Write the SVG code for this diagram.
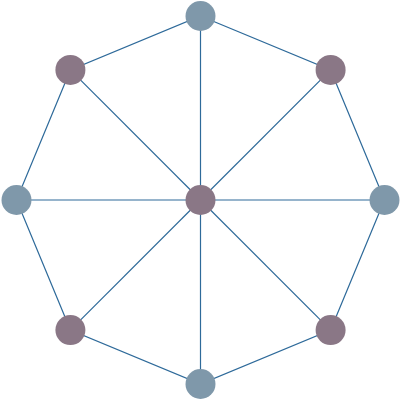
<svg xmlns="http://www.w3.org/2000/svg" width="401" height="401" viewBox="0 0 401 401">
<style>
.e{stroke:#2e6a9a;stroke-width:1.2;fill:none}
.a{fill:#7f98aa}
.b{fill:#8a7786}
</style>
<rect width="401" height="401" fill="#fff"/>
<g id="edges">
<polygon class="e" points="200.5,16 330.6,69.9 384.5,200 330.6,330.1 200.5,384 70.4,330.1 16.5,200 70.4,69.9"/>
<line class="e" x1="200.5" y1="200" x2="200.5" y2="16"/>
<line class="e" x1="200.5" y1="200" x2="330.6" y2="69.9"/>
<line class="e" x1="200.5" y1="200" x2="384.5" y2="200"/>
<line class="e" x1="200.5" y1="200" x2="330.6" y2="330.1"/>
<line class="e" x1="200.5" y1="200" x2="200.5" y2="384"/>
<line class="e" x1="200.5" y1="200" x2="70.4" y2="330.1"/>
<line class="e" x1="200.5" y1="200" x2="16.5" y2="200"/>
<line class="e" x1="200.5" y1="200" x2="70.4" y2="69.9"/>
</g>
<g id="n-top"><circle class="a" cx="200.5" cy="16" r="15"/></g>
<g id="n-tr"><circle class="b" cx="330.6" cy="69.9" r="15"/></g>
<g id="n-right"><circle class="a" cx="384.5" cy="200" r="15"/></g>
<g id="n-br"><circle class="b" cx="330.6" cy="330.1" r="15"/></g>
<g id="n-bottom"><circle class="a" cx="200.5" cy="384" r="15"/></g>
<g id="n-bl"><circle class="b" cx="70.4" cy="330.1" r="15"/></g>
<g id="n-left"><circle class="a" cx="16.5" cy="200" r="15"/></g>
<g id="n-tl"><circle class="b" cx="70.4" cy="69.9" r="15"/></g>
<g id="n-center"><circle class="b" cx="200.5" cy="200" r="15"/></g>
</svg>
